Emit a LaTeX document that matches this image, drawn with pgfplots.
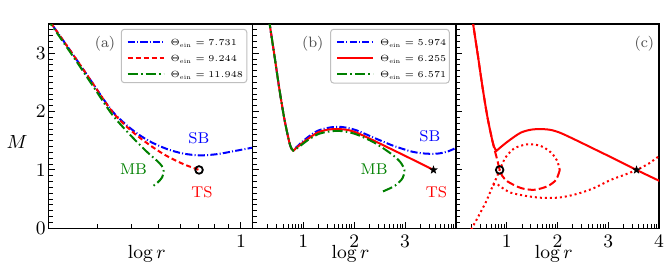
\RequirePackage{fix-cm}
\documentclass[border=0pt]{standalone}
\usepackage{graphicx}
\usepackage{pgfplots}
\pgfplotsset{compat=1.18}
\definecolor{mblue}{rgb}{0,0,1}
\definecolor{mred}{rgb}{1,0,0}
\definecolor{mgreen}{rgb}{0,0.5,0}
\tikzset{
  ddB/.style={dash pattern=on 3.6pt off 1.1pt on 0.5pt off 1.1pt},
  ddG/.style={dash pattern=on 5pt off 1.6pt on 0.8pt off 1.6pt},
  dR/.style={dash pattern=on 2.5pt off 1.5pt},
  dC/.style={dash pattern=on 4pt off 1.6pt},
  dotC/.style={dash pattern=on 1pt off 1.5pt},
}
\pgfdeclareplotmark{fstar}{%
  \pgfpathmoveto{\pgfpointpolar{90}{\pgfplotmarksize}}%
  \pgfpathlineto{\pgfpointpolar{126}{0.42\pgfplotmarksize}}%
  \pgfpathlineto{\pgfpointpolar{162}{\pgfplotmarksize}}%
  \pgfpathlineto{\pgfpointpolar{198}{0.42\pgfplotmarksize}}%
  \pgfpathlineto{\pgfpointpolar{234}{\pgfplotmarksize}}%
  \pgfpathlineto{\pgfpointpolar{270}{0.42\pgfplotmarksize}}%
  \pgfpathlineto{\pgfpointpolar{306}{\pgfplotmarksize}}%
  \pgfpathlineto{\pgfpointpolar{342}{0.42\pgfplotmarksize}}%
  \pgfpathlineto{\pgfpointpolar{18}{\pgfplotmarksize}}%
  \pgfpathlineto{\pgfpointpolar{54}{0.42\pgfplotmarksize}}%
  \pgfpathclose\pgfusepathqfill}
\newcommand{\legfont}{\fontsize{5.4}{6.5}\selectfont}
\newcommand{\leg}[1]{\scalebox{0.83}{$\Theta_{\rm ein} = #1$}}
\pgfplotsset{
  panel/.style={
    scale only axis, height=102.15pt,
    ymin=0, ymax=3.5, ytick={0,1,2,3},
    minor ytick={0.1,0.2,0.3,0.4,0.5,0.6,0.7,0.8,0.9,1.1,1.2,1.3,1.4,1.5,1.6,1.7,1.8,1.9,2.1,2.2,2.3,2.4,2.5,2.6,2.7,2.8,2.9,3.1,3.2,3.3,3.4},
    tick pos=left, tick align=inside,
    major tick length=3.2pt, minor tick length=2pt,
    every tick/.style={black, line width=0.5pt},
    axis line style={line width=0.6pt},
    tick label style={font=\fontsize{9.5}{11}\selectfont},
    yticklabel style={inner xsep=1.2pt},
    label style={font=\fontsize{9.5}{11}\selectfont},
    xlabel={$\log r$},
    xlabel style={at={(axis description cs:0.482,0)}, anchor=center, yshift=-12.85pt},
    legend style={draw=none, fill=none, anchor=north west, font=\legfont,
      inner xsep=2.5pt, inner ysep=2.35pt, row sep=0pt,
      nodes={font=\legfont, inner xsep=0pt, inner ysep=1.1pt, text height=4.5pt, text depth=1.3pt},
      /tikz/every odd column/.append style={column sep=3pt}},
    legend cell align=left,
    legend image code/.code={\draw[#1] (0pt,0pt) -- (18pt,0pt);},
    every axis plot/.append style={line width=1pt},
  },
  lmx/.style={minor xtick={0.3010,0.4771,0.6021,0.6990,0.7782,0.8451,0.9031,0.9542,
    1.3010,1.4771,1.6021,1.6990,1.7782,1.8451,1.9031,1.9542,
    2.3010,2.4771,2.6021,2.6990,2.7782,2.8451,2.9031,2.9542,
    3.3010,3.4771,3.6021,3.6990,3.7782,3.8451,3.9031,3.9542}},
}
\begin{document}
\begin{tikzpicture}
\useasboundingbox (-24.25pt,-23.35pt) rectangle (309.25pt,114.15pt);
% ---------------- (a)
\begin{axis}[panel, at={(0pt,0pt)}, anchor=south west, width=102pt,
  xmin=0.298, xmax=1.042, xtick={1},
  minor xtick={0.4771,0.6021,0.6990,0.7782,0.8451,0.9031,0.9542},
  ylabel={$M$}, ylabel style={rotate=-90, at={(axis description cs:-0.1544,0.4224)}, anchor=center},
  legend style={at={(0.357,0.974)}}]
\addplot[mblue, ddB, smooth] coordinates {(0.290,3.63) (0.384,3.00) (0.457,2.50) (0.530,2.01) (0.600,1.70) (0.663,1.50) (0.729,1.36) (0.790,1.28) (0.851,1.25) (0.912,1.27) (0.972,1.32) (1.045,1.385)};
\addlegendentry{\leg{7.731}}
\addplot[mred, dR, smooth] coordinates {(0.290,3.63) (0.384,3.00) (0.457,2.50) (0.530,2.00) (0.600,1.67) (0.669,1.42) (0.729,1.24) (0.790,1.10) (0.847,1.00)};
\addlegendentry{\leg{9.244}}
\addplot[mgreen, ddG, smooth] coordinates {(0.290,3.61) (0.384,2.97) (0.457,2.46) (0.530,1.95) (0.600,1.58) (0.657,1.31) (0.693,1.16) (0.711,1.07) (0.718,0.98) (0.712,0.87) (0.695,0.78) (0.675,0.71)};
\addlegendentry{\leg{11.948}}
\addplot[black, only marks, mark=o, mark size=1.9pt, line width=0.9pt, forget plot] coordinates {(0.847,1.0)};
\draw[black!25, fill=white, rounded corners=1.5pt, line width=0.5pt] (axis description cs:0.357,0.7127) rectangle (axis description cs:0.972,0.974);
\node[mblue, font=\fontsize{7.8}{9}\selectfont] at (axis cs:0.8465,1.545) {SB};
\node[mgreen, font=\fontsize{7.8}{9}\selectfont] at (axis cs:0.608,1.01) {MB};
\node[mred, font=\fontsize{7.8}{9}\selectfont] at (axis cs:0.858,0.626) {TS};
\node[black!70, font=\fontsize{7.5}{9}\selectfont] at (axis description cs:0.277,0.901) {(a)};
\end{axis}
% ---------------- (b)
\begin{axis}[panel, lmx, at={(102pt,0pt)}, anchor=south west, width=101.75pt,
  xmin=0, xmax=4, xtick={1,2,3}, yticklabels={},
  legend style={at={(0.384,0.974)}}]
\addplot[mblue, ddB, smooth] coordinates {(0.320,3.60) (0.431,2.96) (0.529,2.38) (0.627,1.87) (0.725,1.47) (0.770,1.36) (0.800,1.33) (0.840,1.37) (0.950,1.46) (1.086,1.56) (1.280,1.67) (1.480,1.72) (1.674,1.74) (1.870,1.72) (2.070,1.67) (2.390,1.55) (2.720,1.43) (2.920,1.37) (3.150,1.31) (3.400,1.28) (3.640,1.28) (3.850,1.32) (4.050,1.40)};
\addlegendentry{\leg{5.974}}
\addplot[mred, smooth] coordinates {(0.320,3.60) (0.431,2.96) (0.529,2.38) (0.627,1.87) (0.725,1.47) (0.770,1.36) (0.800,1.33) (0.840,1.36) (0.950,1.44) (1.086,1.53) (1.280,1.64) (1.480,1.69) (1.674,1.70) (1.870,1.685) (2.070,1.63) (2.390,1.50) (2.720,1.36) (3.050,1.22) (3.557,1.00)};
\addlegendentry{\leg{6.255}}
\addplot[mgreen, ddG, smooth] coordinates {(0.320,3.60) (0.431,2.96) (0.529,2.38) (0.627,1.87) (0.725,1.47) (0.770,1.36) (0.800,1.33) (0.840,1.35) (0.950,1.42) (1.086,1.51) (1.280,1.61) (1.480,1.655) (1.674,1.67) (1.870,1.65) (2.070,1.60) (2.390,1.47) (2.720,1.28) (2.900,1.14) (2.985,1.00) (2.950,0.86) (2.800,0.73) (2.560,0.63)};
\addlegendentry{\leg{6.571}}
\addplot[black, only marks, mark=fstar, mark size=2.3pt, forget plot] coordinates {(3.557,1.0)};
\draw[black!25, fill=white, rounded corners=1.5pt, line width=0.5pt] (axis description cs:0.384,0.711) rectangle (axis description cs:0.967,0.974);
\node[mblue, font=\fontsize{7.8}{9}\selectfont] at (axis cs:3.488,1.586) {SB};
\node[mgreen, font=\fontsize{7.8}{9}\selectfont] at (axis cs:2.392,1.005) {MB};
\node[mred, font=\fontsize{7.8}{9}\selectfont] at (axis cs:3.618,0.626) {TS};
\node[black!70, font=\fontsize{7.5}{9}\selectfont] at (axis description cs:0.296,0.901) {(b)};
\end{axis}
% ---------------- (c)
\begin{axis}[panel, lmx, at={(203.75pt,0pt)}, anchor=south west, width=101.5pt,
  xmin=0, xmax=4, xtick={1,2,3,4}, yticklabels={}]
\addplot[mred, smooth] coordinates {(0.320,3.60) (0.431,2.96) (0.529,2.38) (0.627,1.87) (0.725,1.47) (0.770,1.36) (0.800,1.33) (0.840,1.36) (0.950,1.44) (1.086,1.53) (1.280,1.64) (1.480,1.69) (1.674,1.70) (1.870,1.685) (2.070,1.63) (2.390,1.50) (2.720,1.36) (3.050,1.22) (3.557,1.00) (4.050,0.795)};
\addplot[mred, dC, smooth] coordinates {(0.320,3.60) (0.431,2.96) (0.529,2.38) (0.627,1.87) (0.725,1.47) (0.780,1.28) (0.825,1.13) (0.860,1.00) (0.910,0.90) (1.020,0.80) (1.280,0.69) (1.540,0.66) (1.800,0.72) (1.970,0.83) (2.045,1.00)};
\addplot[mred, dotC, smooth] coordinates {(0.300,-0.02) (0.450,0.22) (0.600,0.47) (0.730,0.74) (0.800,0.87) (0.860,1.00) (0.920,1.12) (0.990,1.23) (1.150,1.37) (1.410,1.44) (1.670,1.41) (1.870,1.30) (1.990,1.16) (2.045,1.00)};
\addplot[mred, dotC, smooth] coordinates {(0.730,0.74) (0.780,0.76) (0.830,0.745) (0.900,0.70) (1.080,0.61) (1.410,0.55) (1.740,0.52) (2.060,0.53) (2.390,0.59) (2.720,0.69) (3.050,0.83) (3.300,0.91) (3.557,1.00) (3.800,1.11) (4.050,1.27)};
\addplot[black, only marks, mark=o, mark size=1.9pt, line width=0.9pt] coordinates {(0.86,1.0)};
\addplot[black, only marks, mark=fstar, mark size=2.3pt] coordinates {(3.557,1.0)};
\node[black!70, font=\fontsize{7.5}{9}\selectfont] at (axis description cs:0.928,0.901) {(c)};
\end{axis}
\end{tikzpicture}
\end{document}
